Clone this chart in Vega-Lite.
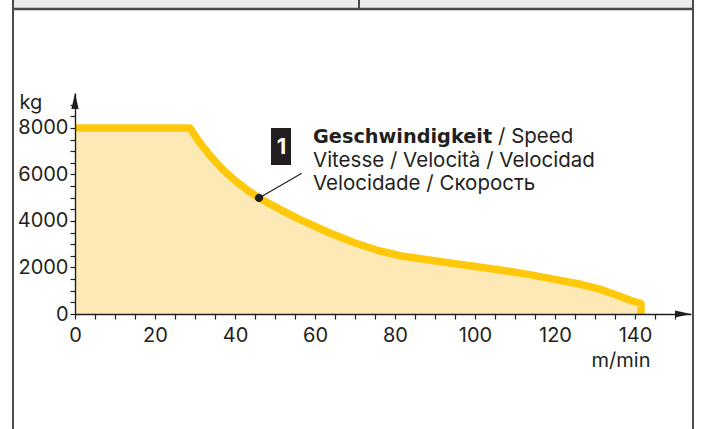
{
  "$schema": "https://vega.github.io/schema/vega-lite/v6.json",
  "width": 616,
  "height": 221,
  "autosize": {"type": "none"},
  "padding": {"left": 75, "top": 93, "right": 11, "bottom": 115},
  "background": "white",
  "config": {"view": {"stroke": null}, "font": "Inter"},
  "datasets": {
    "curve": [
      {"v": 0, "kg": 8000}, {"v": 28.7, "kg": 8000}, {"v": 31, "kg": 7410}, {"v": 34, "kg": 6760},
      {"v": 37, "kg": 6200}, {"v": 40, "kg": 5740}, {"v": 43, "kg": 5340}, {"v": 46, "kg": 4990},
      {"v": 51, "kg": 4520}, {"v": 56, "kg": 4080}, {"v": 64, "kg": 3460}, {"v": 70, "kg": 3050},
      {"v": 76, "kg": 2720}, {"v": 82, "kg": 2480}, {"v": 89, "kg": 2310}, {"v": 95, "kg": 2160},
      {"v": 101, "kg": 2020}, {"v": 108, "kg": 1850}, {"v": 114, "kg": 1680}, {"v": 120, "kg": 1490},
      {"v": 126, "kg": 1290}, {"v": 131, "kg": 1080}, {"v": 135, "kg": 840}, {"v": 139, "kg": 580},
      {"v": 141.5, "kg": 450}, {"v": 141.5, "kg": 0}
    ],
    "band": [{"v": -15.5, "v2": 154.5, "kg": 13111, "kg2": 13700}],
    "vframe": [
      {"v": -15.5, "kg": -5200, "kg2": 13700},
      {"v": 154.5, "kg": -5200, "kg2": 13700},
      {"v": 71, "kg": 13111, "kg2": 13700}
    ],
    "hframe": [{"v": -15.5, "v2": 154.5, "kg": 13111}],
    "leader": [{"v": 46, "kg": 4990, "v2": 56.7, "kg2": 6048}],
    "dot": [{"v": 46, "kg": 4990}],
    "box": [{"v": 49, "v2": 54, "kg": 6405, "kg2": 7995}],
    "boxlabel": [{"v": 51.6, "kg": 7200, "t": "1"}],
    "boldtext": [{"v": 59.5, "kg": 7338, "t": "Geschwindigkeit"}],
    "speedtext": [{"v": 105.75, "kg": 7338, "t": "/ Speed"}],
    "moretext": [
      {"v": 59.5, "kg": 6332, "t": "Vitesse / Velocità / Velocidad"},
      {"v": 59.5, "kg": 5330, "t": "Velocidade / Скорость"}
    ],
    "yarrow": [{"v": 0, "kg": 9500}],
    "xarrow": [{"v": 154, "kg": 0}]
  },
  "encoding": {
    "x": {
      "field": "v",
      "type": "quantitative",
      "scale": {"domain": [0, 154], "nice": false, "zero": false},
      "axis": {
        "title": "m/min",
        "values": [0, 5, 10, 15, 20, 25, 30, 35, 40, 45, 50, 55, 60, 65, 70, 75, 80, 85, 90, 95, 100, 105, 110, 115, 120, 125, 130, 135, 140, 145, 150],
        "labelExpr": "datum.value % 20 === 0 && datum.value <= 140 ? datum.label : ''",
        "format": "d",
        "labelFont": "Inter",
        "labelFontSize": 20,
        "labelColor": "#231f20",
        "labelPadding": 6,
        "labelFlush": false,
        "labelOverlap": false,
        "tickSize": 5,
        "tickColor": "#231f20",
        "tickWidth": 1.2,
        "domainColor": "#231f20",
        "domainWidth": 1.4,
        "grid": false,
        "titleFont": "Inter",
        "titleFontSize": 20,
        "titleFontWeight": "normal",
        "titleColor": "#231f20",
        "titleAlign": "right",
        "titleAnchor": null,
        "titleX": 575,
        "titleY": 52,
        "titleBaseline": "alphabetic",
        "zindex": 1
      }
    },
    "y": {
      "field": "kg",
      "type": "quantitative",
      "scale": {"domain": [0, 9500], "nice": false},
      "axis": {
        "title": "kg",
        "values": [0, 500, 1000, 1500, 2000, 2500, 3000, 3500, 4000, 4500, 5000, 5500, 6000, 6500, 7000, 7500, 8000, 8500, 9000],
        "labelExpr": "datum.value % 2000 === 0 ? datum.label : ''",
        "format": "d",
        "labelFont": "Inter",
        "labelFontSize": 20,
        "labelColor": "#231f20",
        "labelPadding": 2,
        "labelFlush": false,
        "labelOverlap": false,
        "tickSize": 5,
        "tickColor": "#231f20",
        "tickWidth": 1.2,
        "domainColor": "#231f20",
        "domainWidth": 1.4,
        "grid": false,
        "titleFont": "Inter",
        "titleFontSize": 20,
        "titleFontWeight": "normal",
        "titleColor": "#231f20",
        "titleAngle": 0,
        "titleAlign": "left",
        "titleAnchor": null,
        "titleX": -56,
        "titleY": 15,
        "titleBaseline": "alphabetic",
        "zindex": 1
      }
    }
  },
  "layer": [
    {
      "data": {"name": "band"},
      "mark": {"type": "rect", "color": "#ebebed"},
      "encoding": {"x2": {"field": "v2"}, "y2": {"field": "kg2"}}
    },
    {
      "data": {"name": "curve"},
      "mark": {"type": "area", "color": "#fde9b5", "opacity": 1}
    },
    {
      "data": {"name": "curve"},
      "mark": {"type": "line", "color": "#ffc80a", "strokeWidth": 7.5, "strokeCap": "butt", "strokeJoin": "round"}
    },
    {
      "data": {"name": "vframe"},
      "mark": {"type": "rule", "color": "#4a4a4a", "strokeWidth": 2},
      "encoding": {"y2": {"field": "kg2"}}
    },
    {
      "data": {"name": "hframe"},
      "mark": {"type": "rule", "color": "#4a4a4a", "strokeWidth": 2.5},
      "encoding": {"x2": {"field": "v2"}}
    },
    {
      "data": {"name": "leader"},
      "mark": {"type": "rule", "color": "#231f20", "strokeWidth": 1.2},
      "encoding": {"x2": {"field": "v2"}, "y2": {"field": "kg2"}}
    },
    {
      "data": {"name": "dot"},
      "mark": {"type": "point", "shape": "circle", "filled": true, "color": "#231f20", "size": 70, "opacity": 1}
    },
    {
      "data": {"name": "box"},
      "mark": {"type": "rect", "color": "#231f20"},
      "encoding": {"x2": {"field": "v2"}, "y2": {"field": "kg2"}}
    },
    {
      "data": {"name": "boxlabel"},
      "mark": {"type": "text", "color": "white", "font": "Inter", "fontSize": 22, "fontWeight": "bold", "align": "center", "baseline": "middle"},
      "encoding": {"text": {"field": "t"}}
    },
    {
      "data": {"name": "boldtext"},
      "mark": {"type": "text", "color": "#231f20", "font": "DejaVu Sans", "fontSize": 19.3, "fontWeight": "bold", "align": "left", "baseline": "alphabetic"},
      "encoding": {"text": {"field": "t"}}
    },
    {
      "data": {"name": "speedtext"},
      "mark": {"type": "text", "color": "#231f20", "font": "Inter", "fontSize": 20.5, "align": "left", "baseline": "alphabetic"},
      "encoding": {"text": {"field": "t"}}
    },
    {
      "data": {"name": "moretext"},
      "mark": {"type": "text", "color": "#231f20", "font": "Inter", "fontSize": 20.5, "align": "left", "baseline": "alphabetic"},
      "encoding": {"text": {"field": "t"}}
    },
    {
      "data": {"name": "yarrow"},
      "mark": {"type": "point", "shape": "M0,-1L0.45,1L-0.45,1Z", "filled": true, "color": "#231f20", "size": 256, "opacity": 1, "yOffset": 8}
    },
    {
      "data": {"name": "xarrow"},
      "mark": {"type": "point", "shape": "M1,0L-1,0.45L-1,-0.45Z", "filled": true, "color": "#231f20", "size": 256, "opacity": 1, "xOffset": -8}
    }
  ]
}
